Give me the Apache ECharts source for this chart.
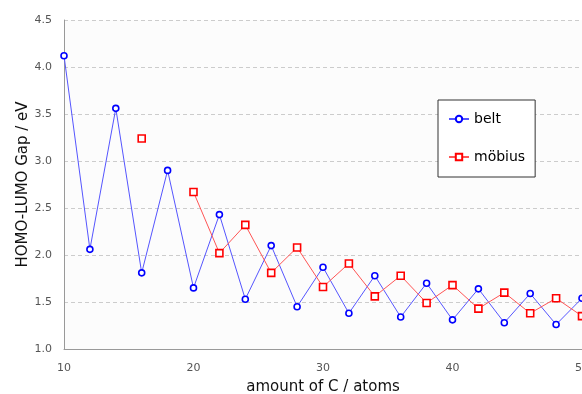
<!DOCTYPE html>
<html><head><meta charset="utf-8">
<script src="https://cdn.jsdelivr.net/npm/echarts@6/dist/echarts.min.js"></script>
<style>html,body{margin:0;padding:0;background:#fff}#c{width:582px;height:394px}</style>
</head><body><div id="c"></div>
<script>
const beltX = [10,12,14,16,18,20,22,24,26,28,30,32,34,36,38,40,42,44,46,48,50];
const beltY = [4.12,2.06,3.56,1.81,2.90,1.65,2.43,1.53,2.10,1.45,1.87,1.38,1.78,1.34,1.70,1.31,1.64,1.28,1.59,1.26,1.54];
const mobiusX = [16,18,20,22,24,26,28,30,32,34,36,38,40,42,44,46,48,50];
const mobiusY = [3.24,'-',2.67,2.02,2.32,1.81,2.08,1.66,1.91,1.56,1.78,1.49,1.68,1.43,1.60,1.38,1.54,1.35];
const seriesNames = ['belt','möbius'];
const xTitle = 'amount of C / atoms';
const yTitle = 'HOMO-LUMO Gap / eV';

const chart = echarts.init(document.getElementById('c'), null, {renderer:'canvas'});
const font = 'DejaVu Sans, Liberation Sans, sans-serif';
chart.setOption({
  animation:false,
  backgroundColor:'#fff',
  grid:{left:64,top:20,right:0,bottom:45,show:true,backgroundColor:'#fcfcfc',borderWidth:0,
        outerBoundsMode:'none',containLabel:false},
  legend:{
    orient:'vertical', left:438, top:100,
    padding:[12,10,13,10],
    borderColor:'#333', borderWidth:1, backgroundColor:'#fff',
    itemGap:24, itemWidth:20, itemHeight:8,
    textStyle:{fontFamily:font,fontSize:14,color:'#000'},
    data:seriesNames
  },
  xAxis:{
    type:'value', min:10, max:50, interval:10,
    name:xTitle, nameLocation:'middle', nameGap:31, nameMoveOverlap:false,
    nameTextStyle:{fontFamily:font,fontSize:15,color:'#111'},
    axisLine:{lineStyle:{color:'#999'}},
    axisTick:{show:false},
    axisLabel:{fontFamily:font,fontSize:11,color:'#555',margin:14,hideOverlap:false},
    splitLine:{show:false}
  },
  yAxis:{
    type:'value', min:1.0, max:4.5, interval:0.5,
    name:yTitle, nameLocation:'middle', nameGap:33, nameMoveOverlap:false,
    nameTextStyle:{fontFamily:font,fontSize:15,color:'#111'},
    axisLine:{show:true,lineStyle:{color:'#999'}},
    axisTick:{show:false},
    axisLabel:{fontFamily:font,fontSize:11,color:'#555',formatter:v=>v.toFixed(1),margin:12},
    splitLine:{lineStyle:{color:'#ccc',type:[4,3]}}
  },
  series:[
    {name:seriesNames[0],type:'line',data:beltX.map((x,i)=>[x,beltY[i]]),
     symbol:'circle',symbolSize:6,showAllSymbol:true,clip:false,
     lineStyle:{color:'#5555ff',width:1},
     itemStyle:{color:'#fff',borderColor:'#0000ff',borderWidth:1.6}},
    {name:seriesNames[1],type:'line',data:mobiusX.map((x,i)=>[x,mobiusY[i]]),
     symbol:'rect',symbolSize:7,showAllSymbol:true,connectNulls:false,clip:false,
     lineStyle:{color:'#ff5555',width:1},
     itemStyle:{color:'#fff',borderColor:'#ff0000',borderWidth:1.6}}
  ]
});
</script></body></html>
